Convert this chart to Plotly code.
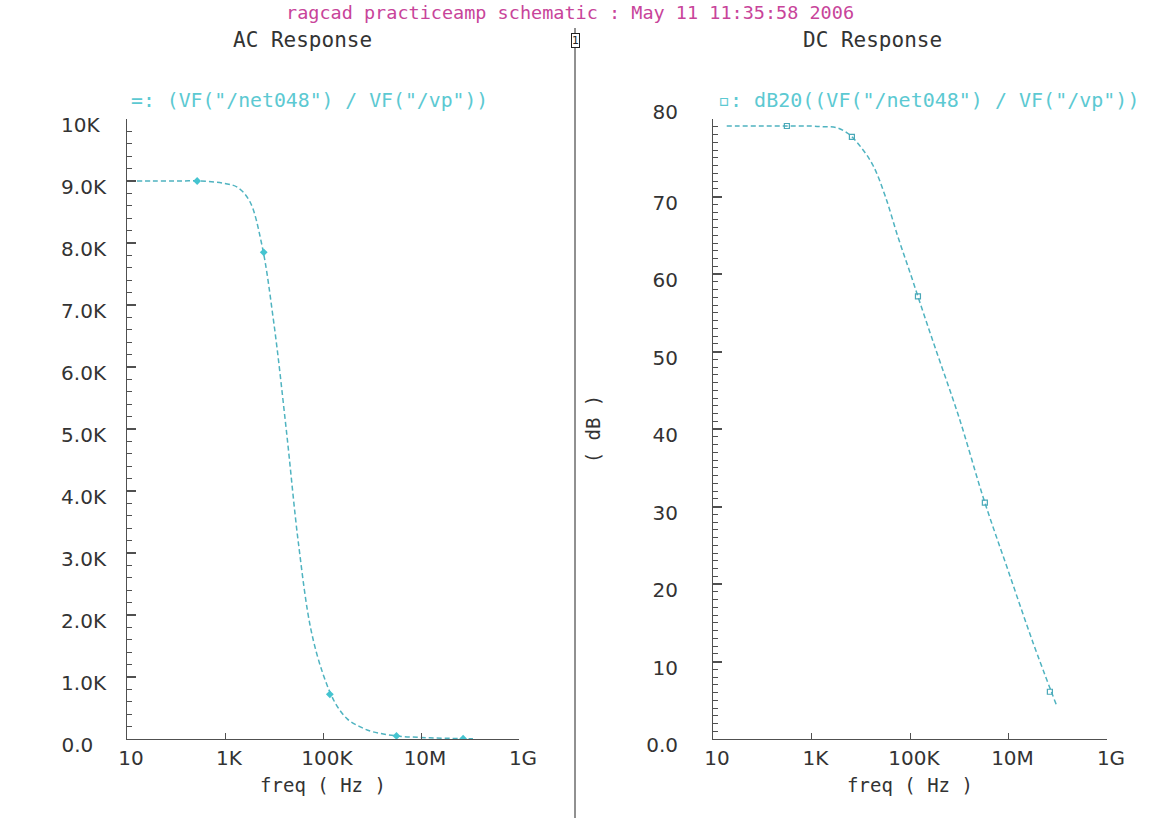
import plotly.graph_objects as go

W, H = 1153, 818

# ---------------- data ----------------
ac_freq_hz = [16, 32, 100, 316, 1000, 1780, 3160, 5620, 10000, 17800, 31600,
              56200, 100000, 178000, 316000, 562000, 1000000, 3160000,
              10000000, 31600000, 115000000]
ac_gain = [9000, 9000, 9000, 9000, 8960, 8900, 8680, 7980, 6690, 4990, 3150,
           1780, 1050, 580, 320, 200, 120, 50, 25, 12, 5]
ac_marker_freq_hz = [270, 6170, 138000, 3160000, 72400000]
ac_marker_gain = [9000, 7850, 720, 50, 5]

dc_freq_hz = [19, 32, 100, 316, 1000, 1780, 3160, 5620, 10000, 17800, 31600,
              56200, 100000, 178000, 316000, 1000000, 3160000, 10000000,
              31600000, 95000000]
dc_gain_db = [79.1, 79.1, 79.1, 79.1, 79.1, 79.0, 78.9, 78.1, 76.4, 74.0, 70.0,
              64.9, 60.2, 55.4, 50.7, 41.4, 30.9, 21.6, 12.4, 4.3]
dc_marker_freq_hz = [316, 6610, 145000, 3310000, 69200000]
dc_marker_db = [79.1, 77.7, 57.1, 30.5, 6.1]

x_tick_vals = [10, 1e3, 1e5, 1e7, 1e9]
x_tick_text = ["10", "1K", "100K", "10M", "1G"]
ac_y_tick_vals = [0, 1000, 2000, 3000, 4000, 5000, 6000, 7000, 8000, 9000, 10000]
ac_y_tick_text = ["0.0\u00a0\u00a0", "1.0K", "2.0K", "3.0K", "4.0K", "5.0K",
                  "6.0K", "7.0K", "8.0K", "9.0K", "10K\u00a0"]
dc_y_tick_vals = [0, 10, 20, 30, 40, 50, 60, 70, 80]
dc_y_tick_text = ["0.0", "10", "20", "30", "40", "50", "60", "70", "80<br>\u00a0"]

page_title = "ragcad practiceamp schematic : May 11 11:35:58 2006"
ac_title = "AC Response"
dc_title = "DC Response"
ac_legend = '=: (VF("/net048") / VF("/vp"))'
dc_legend = '\u25ab: dB20((VF("/net048") / VF("/vp"))'
x_title = "freq ( Hz )"
dc_y_title = "( dB )"

# ---------------- style ----------------
FONT = "DejaVu Sans"
MONO = "DejaVu Sans Mono"
CURVE = "#4fb3c0"
MARK = "#45c4d0"
LEG = "#5cc9d2"
AXC = "#505050"
TXT = "#333333"
MAGENTA = "#c8449a"


def px(x):
    return x / W


def py(y):
    return 1 - y / H


fig = go.Figure()

fig.add_trace(go.Scatter(x=ac_freq_hz, y=ac_gain, mode="lines",
                         line=dict(color=CURVE, width=1.5, dash="5px,3px", shape="spline"),
                         xaxis="x", yaxis="y", showlegend=False, hoverinfo="skip"))
fig.add_trace(go.Scatter(x=ac_marker_freq_hz, y=ac_marker_gain, mode="markers",
                         marker=dict(symbol="diamond", size=6, color=MARK),
                         xaxis="x", yaxis="y", showlegend=False))
fig.add_trace(go.Scatter(x=dc_freq_hz, y=dc_gain_db, mode="lines",
                         line=dict(color=CURVE, width=1.5, dash="5px,3px", shape="spline"),
                         xaxis="x2", yaxis="y2", showlegend=False, hoverinfo="skip"))
fig.add_trace(go.Scatter(x=dc_marker_freq_hz, y=dc_marker_db, mode="markers",
                         marker=dict(symbol="square-open", size=5, color="#4aa8b8",
                                     line=dict(width=1.2)),
                         xaxis="x2", yaxis="y2", showlegend=False))

xcommon = dict(type="log", range=[1, 9], tickvals=x_tick_vals, ticktext=x_tick_text,
               ticks="inside", ticklen=6, tickwidth=1, tickcolor=AXC,
               showline=True, linecolor=AXC, linewidth=1, showgrid=False,
               zeroline=False, tickfont=dict(family=FONT, size=20, color=TXT),
               ticklabelshift=4, ticklabelstandoff=1, automargin=False,
               title=dict(text=x_title, font=dict(family=MONO, size=19, color=TXT),
                          standoff=9))
ycommon = dict(ticks="inside", ticklen=9, tickwidth=2, tickcolor=AXC,
               showline=True, linecolor=AXC, linewidth=1, showgrid=False,
               zeroline=False, tickfont=dict(family=FONT, size=20, color=TXT),
               ticklabelshift=6, automargin=False)

ydom = [py(739), py(119)]

fig.update_layout(
    width=W, height=H,
    margin=dict(l=0, r=0, t=0, b=0, pad=0, autoexpand=False),
    paper_bgcolor="white", plot_bgcolor="white",
    xaxis=dict(domain=[px(127), px(519)], anchor="y", **xcommon),
    yaxis=dict(domain=ydom, anchor="x", range=[0, 10000],
               tickvals=ac_y_tick_vals, ticktext=ac_y_tick_text,
               ticklabelstandoff=16,
               minor=dict(dtick=200, ticks="inside", ticklen=5, tickwidth=1,
                          tickcolor=AXC, showgrid=False),
               **ycommon),
    xaxis2=dict(domain=[px(713), px(1107)], anchor="y2", **xcommon),
    yaxis2=dict(domain=ydom, anchor="x2", range=[0, 80],
                tickvals=dc_y_tick_vals, ticktext=dc_y_tick_text,
                ticklabelstandoff=30,
                minor=dict(dtick=1, ticks="inside", ticklen=5, tickwidth=1,
                           tickcolor=AXC, showgrid=False),
                title=dict(text=dc_y_title, font=dict(family=MONO, size=19, color=TXT),
                           standoff=40),
                **ycommon),
    showlegend=False,
)

annotations = [
    dict(text=page_title, x=px(570), y=py(13), font=dict(family=MONO, size=18.5, color=MAGENTA)),
    dict(text=ac_title, x=px(302), y=py(40), font=dict(family=MONO, size=21, color=TXT)),
    dict(text=dc_title, x=px(872), y=py(40), font=dict(family=MONO, size=21, color=TXT)),
    dict(text=ac_legend, x=px(129), y=py(100), xanchor="left",
         font=dict(family=MONO, size=19.8, color=LEG)),
    dict(text=dc_legend, x=px(716), y=py(100), xanchor="left",
         font=dict(family=MONO, size=20, color=LEG)),
    dict(text="1", x=px(575), y=py(40), font=dict(family=FONT, size=11, color="#222"),
         bordercolor="#222", borderwidth=1, borderpad=0, bgcolor="white"),
]
for a in annotations:
    a.setdefault("xanchor", "center")
    a.update(xref="paper", yref="paper", yanchor="middle", showarrow=False)
fig.update_layout(annotations=annotations)

fig.add_shape(type="line", xref="paper", yref="paper",
              x0=px(575), x1=px(575), y0=0, y1=py(28),
              line=dict(color="#222222", width=1))

fig.write_html("out.html")
